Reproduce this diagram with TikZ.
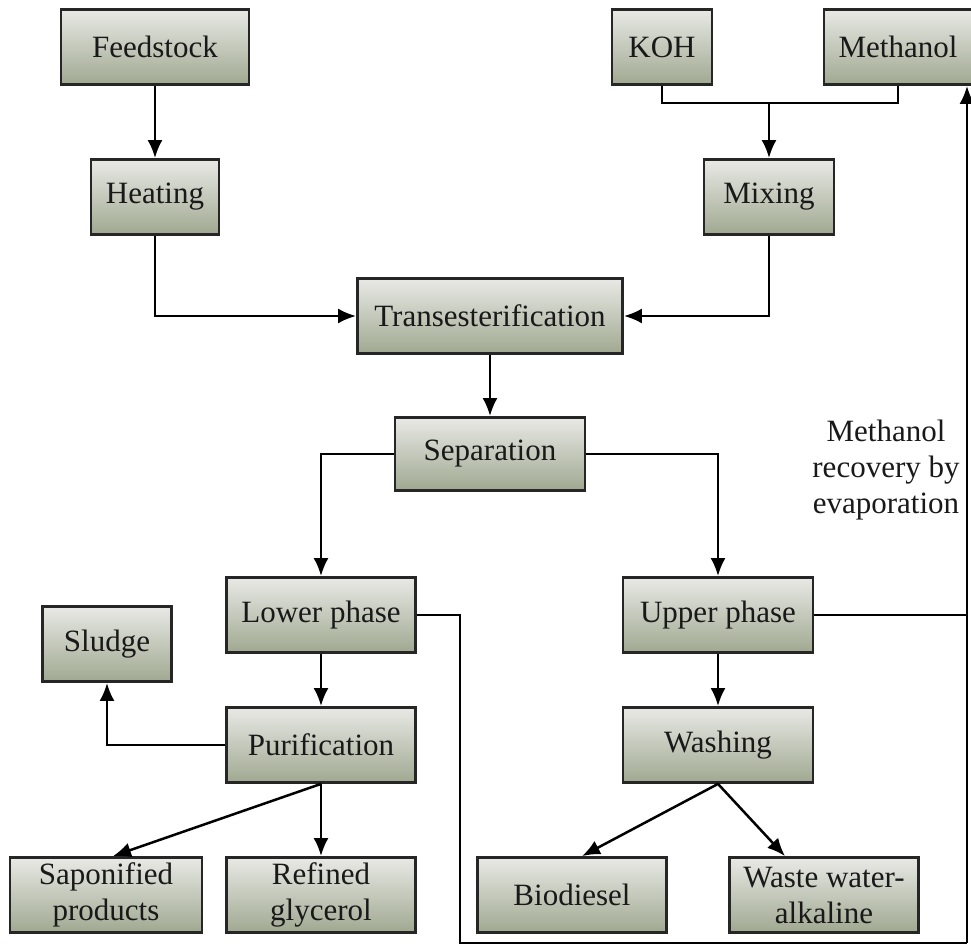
\documentclass[tikz,border=0pt]{standalone}
\usepackage{fontspec}
\setmainfont{Liberation Serif}
\usetikzlibrary{arrows.meta}

\definecolor{boxtop}{RGB}{232,233,229}
\definecolor{boxbot}{RGB}{160,168,145}
\tikzset{>={Latex[length=18pt,width=15pt]}}

\begin{document}
\begin{tikzpicture}[x=1pt,y=-1pt,
	box/.style={draw=black!85, line width=2.8pt, top color=boxtop, bottom color=boxbot,
		minimum height=75pt, inner sep=0pt, align=center, text=black!90,
		font=\fontsize{31}{36}\selectfont},
	wire/.style={line width=2.5pt},
	link/.style={wire, ->}]
	\useasboundingbox (0,0) rectangle (971,952);
	
	% inputs
	\node[box, minimum width=188pt] (feed) at (155,47) {Feedstock};
	\node[box, minimum width=128pt] (heat) at (155,197) {Heating};
	\node[box, minimum width=100pt] (koh) at (662,47) {KOH};
	\node[box, minimum width=148pt] (meth) at (898,47) {Methanol};
	\node[box, minimum width=130pt] (mix) at (769,197) {Mixing};
	
	% reaction
	\node[box, minimum width=265pt] (trans) at (490,316) {Transesterification};
	\node[box, minimum width=190pt, minimum height=73pt] (sep) at (490,454) {Separation};
	\node[box, minimum width=189pt] (lower) at (321,615) {Lower phase};
	\node[box, minimum width=190pt] (upper) at (718,615) {Upper phase};
	
	% glycerol side
	\node[box, minimum width=129pt] (sludge) at (107,644) {Sludge};
	\node[box, minimum width=189pt] (puri) at (321,745) {Purification};
	\node[box, minimum width=192pt] (sapo) at (106,895) {Saponified\\products};
	\node[box, minimum width=189pt] (refin) at (321,895) {Refined\\glycerol};
	
	% biodiesel side
	\node[box, minimum width=190pt] (wash) at (718,745) {Washing};
	\node[box, minimum width=189pt] (bio) at (572,895) {Biodiesel};
	\node[box, minimum width=189pt] (waste) at (824,895) {Waste water-\\alkaline};
	
	\node[align=center, text=black!90, font=\fontsize{31}{36}\selectfont] (rec) at (886,470)
		{Methanol\\recovery by\\evaporation};
	
	% connectors
	\draw[link] (feed) -- (heat);
	\draw[link] (heat.south) |- (trans.west);
	\draw[link] (mix.south) |- (trans.east);
	\coordinate (join) at (769,103);
	\draw[wire] (koh.south) |- (join) -| (meth.south);
	\draw[link] (join) -- (mix);
	\draw[link] (trans) -- (sep);
	\draw[link] (sep.west) -| (lower.north);
	\draw[link] (sep.east) -| (upper.north);
	\draw[link] (lower) -- (puri);
	\draw[link] (puri.west) -| (sludge.south);
	\draw[link] (puri.south) -- ([xshift=7pt]sapo.north);
	\draw[link] (puri) -- (refin);
	\draw[link] (upper) -- (wash);
	\draw[link] (wash.south) -- ([xshift=10pt]bio.north);
	\draw[link] (wash.south) -- ([xshift=-39pt]waste.north);
	
	% methanol recovery loop
	\coordinate (turn) at (460,943);
	\coordinate (edge) at (967,943);
	\draw[wire] (lower.east) -| (turn) -- (edge);
	\draw[wire] (upper.east) -- (upper.east -| edge);
	\draw[link] (edge) -- (meth.south -| edge);
\end{tikzpicture}
\end{document}
